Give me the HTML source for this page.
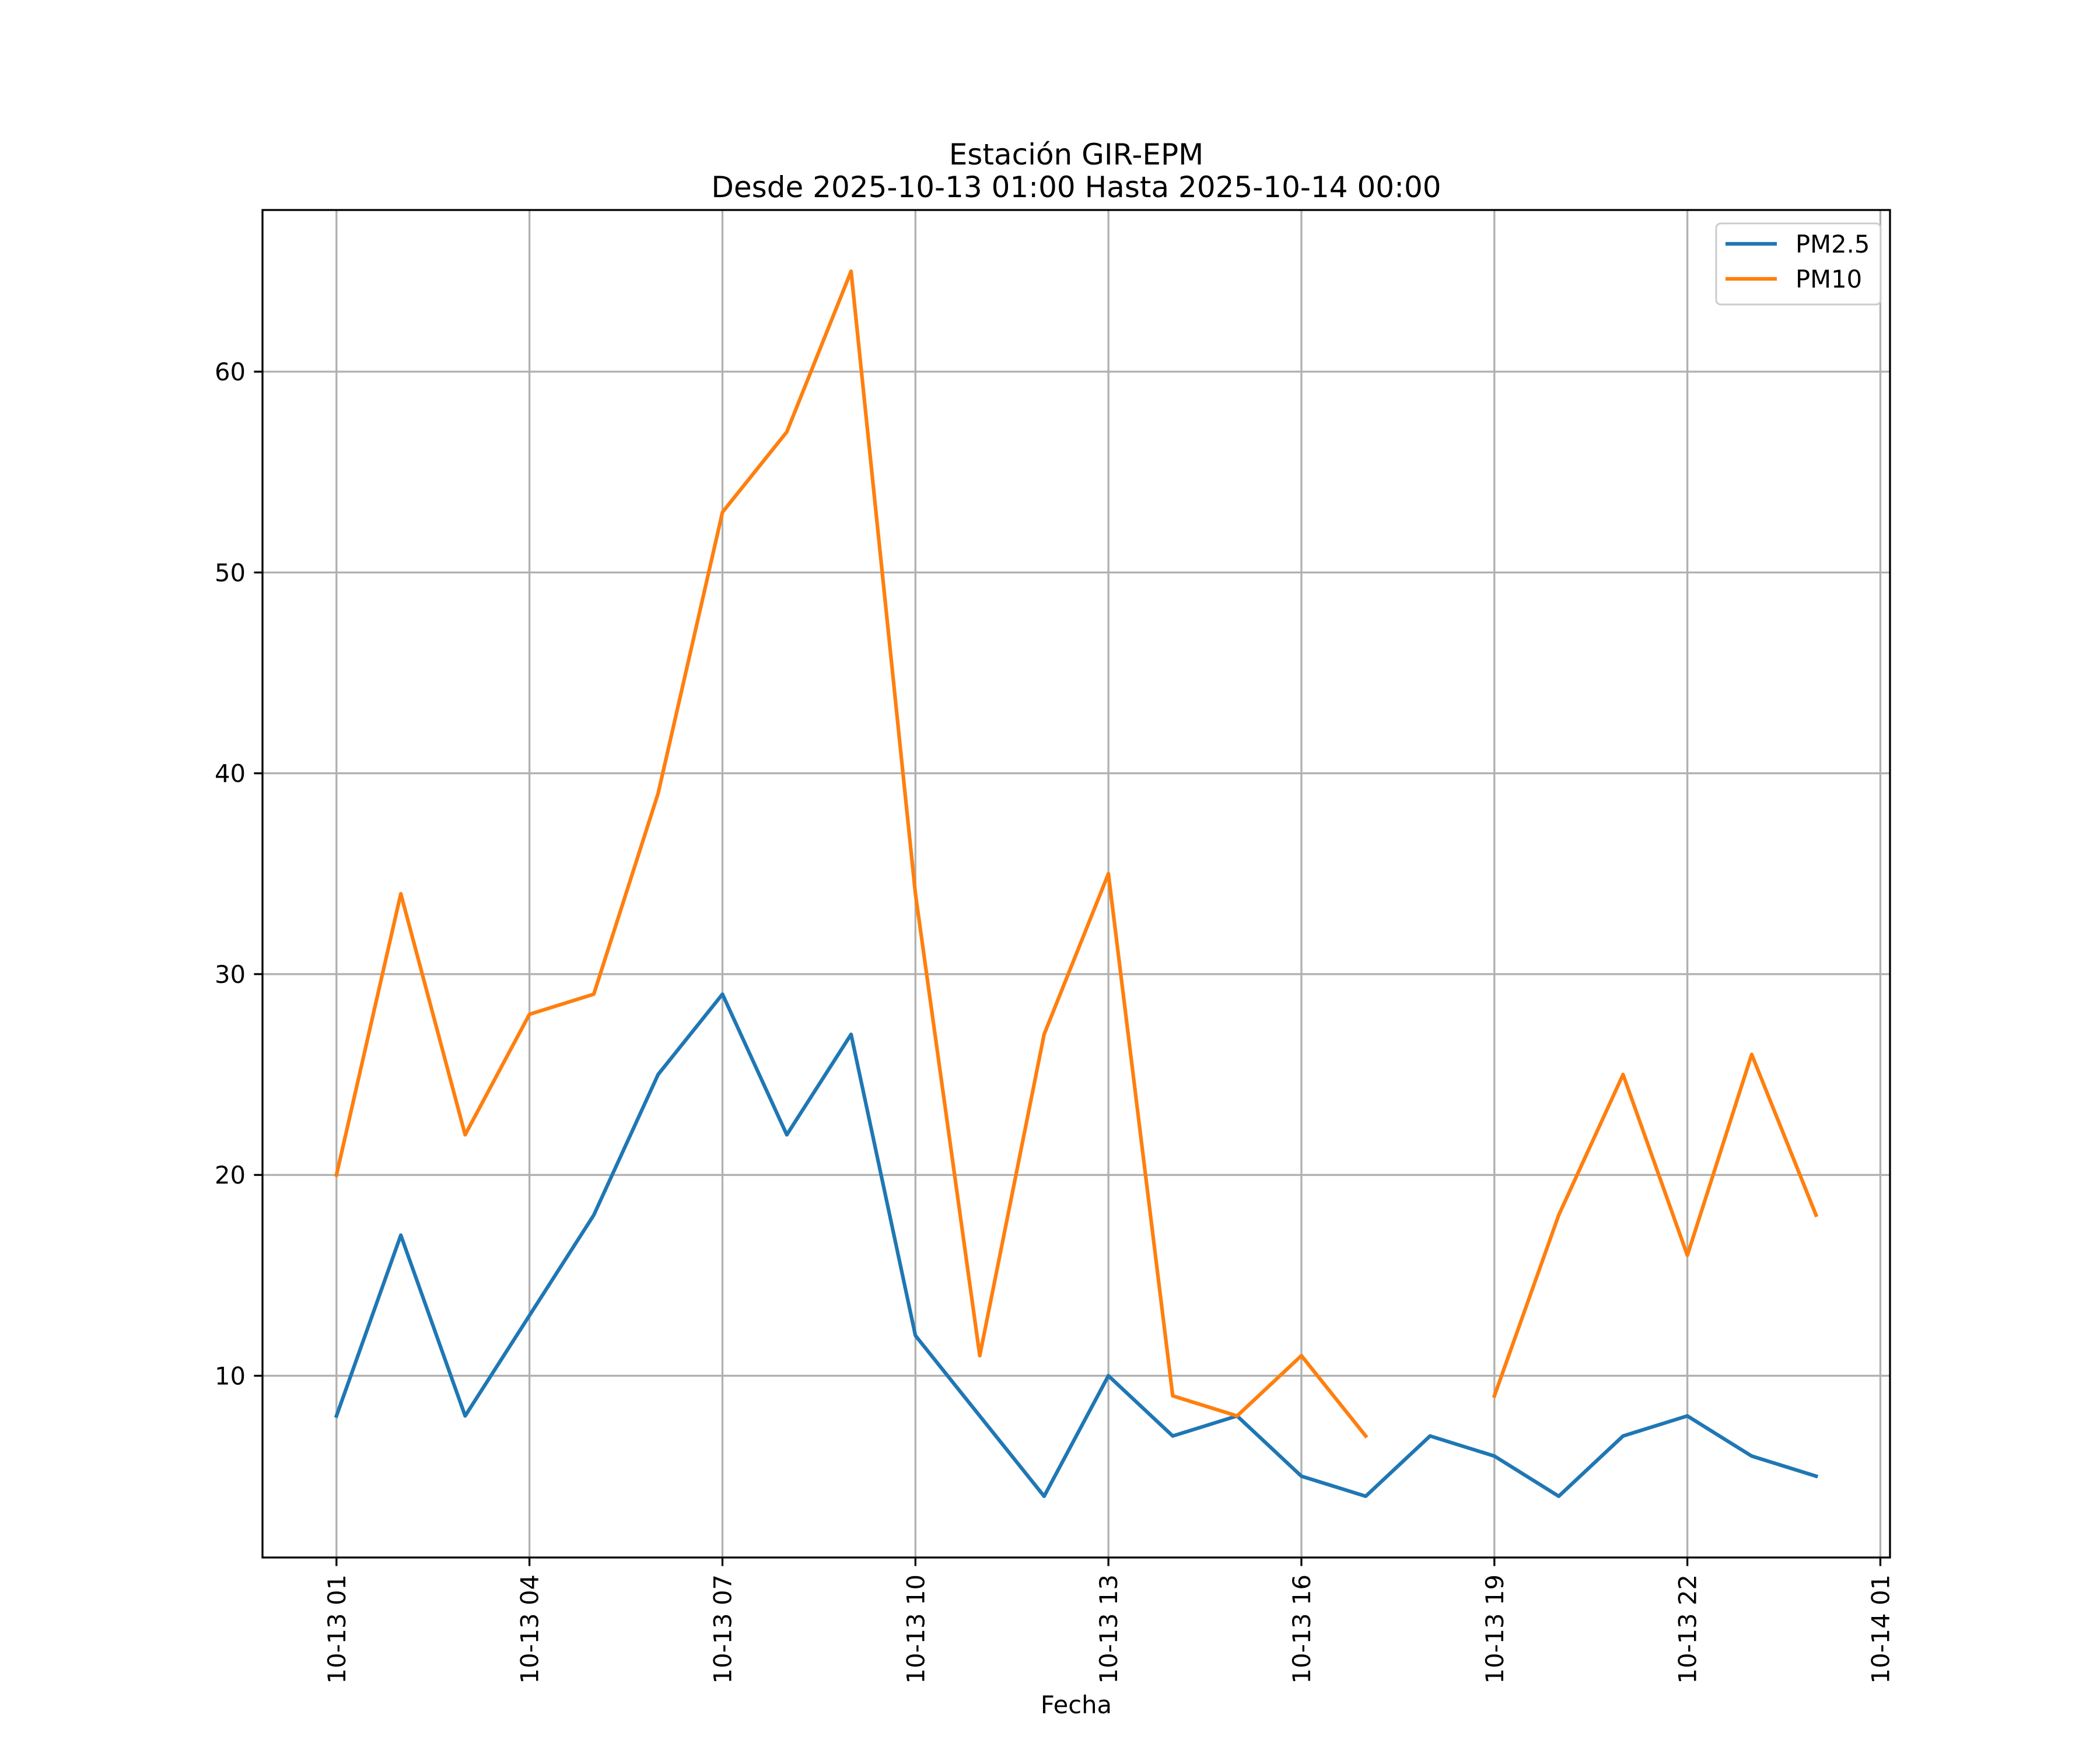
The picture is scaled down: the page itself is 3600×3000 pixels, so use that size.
<!DOCTYPE html>
<html><head><meta charset="utf-8">
<style>html,body{margin:0;padding:0;background:#fff}svg{display:block}text{font-family:"DejaVu Sans","Liberation Sans",sans-serif;fill:#000}</style>
</head><body>
<svg id="chart" width="3600" height="3000" viewBox="0 0 3600 3000" xmlns="http://www.w3.org/2000/svg">
<rect width="3600" height="3000" fill="#fff"/>
<g id="grid"></g><g id="series"></g><g id="axes"></g>
<text x="1845" y="282" font-size="50" text-anchor="middle">Estación GIR-EPM</text>
<text x="1845" y="338" font-size="50" text-anchor="middle">Desde 2025-10-13 01:00 Hasta 2025-10-14 00:00</text>
<text x="1845" y="2937" font-size="41.7" text-anchor="middle">Fecha</text>
<g>
<rect x="2942" y="383" width="282" height="139" fill="#fff" fill-opacity="0.8" stroke="#ccc" stroke-width="3" rx="8"/>
<line x1="2958" y1="418" x2="3046" y2="418" stroke="#1f77b4" stroke-width="6.25"/>
<text x="3078" y="433" font-size="41.7">PM2.5</text>
<line x1="2958" y1="478" x2="3046" y2="478" stroke="#ff7f0e" stroke-width="6.25"/>
<text x="3078" y="493" font-size="41.7">PM10</text>
</g>
</svg>
<script>
const hours = [0,1,2,3,4,5,6,7,8,9,10,11,12,13,14,15,16,17,18,19,20,21,22,23];
const pm25 = [8,17,8,13,18,25,29,22,27,12,8,4,10,7,8,5,4,7,6,4,7,8,6,5];
const pm10 = [20,34,22,28,29,39,53,57,65,34,11,27,35,9,8,11,7,null,9,18,25,16,26,18];
const xTickHours = [0,3,6,9,12,15,18,21,24];
const xTickLabels = ["10-13 01","10-13 04","10-13 07","10-13 10","10-13 13","10-13 16","10-13 19","10-13 22","10-14 01"];
const yTicks = [10,20,30,40,50,60];

const L=450,R=3240,T=360,B=2670;
const all=[...pm25,...pm10].filter(v=>v!==null);
const ymin=Math.min(...all),ymax=Math.max(...all),ym=(ymax-ymin)*0.05;
const y0=ymin-ym,y1=ymax+ym;
const xmin0=Math.min(...hours),xmax0=Math.max(...hours),xm=(xmax0-xmin0)*0.05;
const x0=xmin0-xm,x1=xmax0+xm;
const sx=h=>L+(h-x0)/(x1-x0)*(R-L);
const sy=v=>B-(v-y0)/(y1-y0)*(B-T);
const NS='http://www.w3.org/2000/svg';
function mk(tag,attrs,parent){const e=document.createElementNS(NS,tag);for(const k in attrs)e.setAttribute(k,attrs[k]);parent.appendChild(e);return e;}
const grid=document.getElementById('grid'),axes=document.getElementById('axes'),series=document.getElementById('series');
xTickHours.forEach((h,i)=>{
  const x=sx(h);
  const g=mk('line',{x1:x,y1:T,x2:x,y2:B,stroke:'#b0b0b0','stroke-width':3.3},grid);
  
  
  const t=mk('line',{x1:x,y1:B,x2:x,y2:B+14.6,stroke:'#000','stroke-width':3.3},axes);
  
  
  const tx=mk('text',{x:0,y:0,'font-size':41.7,'text-anchor':'end',transform:`translate(${x+15},${B+29}) rotate(-90)`},axes);
  tx.textContent=xTickLabels[i];
  
  
});
yTicks.forEach(v=>{
  const y=sy(v);
  const g=mk('line',{x1:L,y1:y,x2:R,y2:y,stroke:'#b0b0b0','stroke-width':3.3},grid);
  
  
  const t=mk('line',{x1:L-14.6,y1:y,x2:L,y2:y,stroke:'#000','stroke-width':3.3},axes);
  
  
  const tx=mk('text',{x:L-29,y:y+15,'font-size':41.7,'text-anchor':'end'},axes);
  tx.textContent=v;
  
  
});
const frame=mk('rect',{x:L,y:T,width:R-L,height:B-T,fill:'none',stroke:'#000','stroke-width':3.3},axes);


function pathFor(vals){let d='',pen=false;vals.forEach((v,i)=>{if(v===null){pen=false;return;}d+=(pen?'L':'M')+sx(hours[i]).toFixed(1)+' '+sy(v).toFixed(1)+' ';pen=true;});return d;}
const p1=mk('path',{d:pathFor(pm25),fill:'none',stroke:'#1f77b4','stroke-width':6.25,'stroke-linejoin':'round','stroke-linecap':'square'},series);


const p2=mk('path',{d:pathFor(pm10),fill:'none',stroke:'#ff7f0e','stroke-width':6.25,'stroke-linejoin':'round','stroke-linecap':'square'},series);


</script>
</body></html>
